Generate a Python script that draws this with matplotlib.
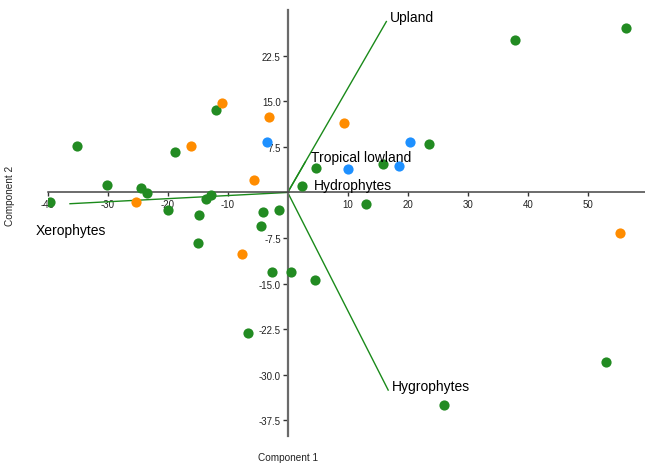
import matplotlib
matplotlib.use("Agg")
import matplotlib.pyplot as plt

# --- data -------------------------------------------------------------
green_x = [-35.1, -30.2, -24.4, -23.5, -18.8, -11.95, -12.8, -13.7, -19.9, -14.8,
           -39.6, -4.2, -1.4, -4.4, 4.7, 2.3, -14.95, -2.6, 0.5, 4.5, -6.6,
           37.9, 56.4, 23.6, 15.8, 13.05, 53.05, 26.1]
green_y = [7.6, 1.3, 0.7, -0.1, 6.6, 13.5, -0.4, -1.15, -2.85, -3.7,
           -1.5, -3.2, -2.85, -5.6, 4.06, 1.04, -8.3, -13.1, -13.1, -14.4, -23.1,
           25.1, 27.0, 7.95, 4.7, -1.86, -27.8, -35.0]
orange_x = [-10.9, -3.2, -16.2, -5.7, -25.3, -7.6, 9.3, 55.3]
orange_y = [14.7, 12.4, 7.6, 2.1, -1.5, -10.1, 11.5, -6.6]
blue_x = [-3.45, 20.3, 10.1, 18.55]
blue_y = [8.3, 8.3, 3.8, 4.3]

loading_names = ["Upland", "Tropical lowland", "Hydrophytes", "Hygrophytes", "Xerophytes"]
loading_x = [16.5, 3.0, 0.3, 16.8, -36.4]
loading_y = [28.2, 5.13, 0.05, -32.6, -1.86]
label_x = [17.05, 3.9, 4.4, 17.4, -41.95]
label_y = [28.9, 5.9, 1.3, -31.9, -6.1]

x_ticks = [-40, -30, -20, -10, 10, 20, 30, 40, 50]
y_ticks = [22.5, 15.0, 7.5, -7.5, -15.0, -22.5, -30.0, -37.5]

# --- figure -----------------------------------------------------------
plt.rcParams['font.family'] = ['Liberation Sans', 'DejaVu Sans']
W, H = 645, 464
fig = plt.figure(figsize=(W / 100, H / 100), dpi=100)
left_px, right_px, top_px, bottom_px = 47.7, 647.7, 11.0, 436.7
ax = fig.add_axes([left_px / W, (H - bottom_px) / H,
                   (right_px - left_px) / W, (bottom_px - top_px) / H])
ax.set_xlim(-40, 60)
ax.set_ylim(-40, 30)
ax.patch.set_alpha(0)

for s in ("top", "right"):
    ax.spines[s].set_visible(False)
ax.spines["left"].set_position(("data", 0))
ax.spines["bottom"].set_position(("data", 0))
ax.spines["left"].set_color("#6a6a6a")
ax.spines["left"].set_linewidth(1.6)
ax.spines["bottom"].set_color("#444444")
ax.spines["bottom"].set_linewidth(1.1)

ax.set_xticks(x_ticks)
ax.set_xticklabels([str(v) for v in x_ticks])
ax.set_yticks(y_ticks)
ax.set_yticklabels([f"{v:.1f}" for v in y_ticks])
ax.tick_params(axis="x", direction="out", length=3, width=1, color="#333333",
               pad=1.5, labelsize=7, labelcolor="#222222")
ax.tick_params(axis="y", direction="out", length=3.5, width=1, color="#333333",
               pad=1.5, labelsize=7, labelcolor="#222222")

# loading vectors
for name, lx, ly, tx, ty in zip(loading_names, loading_x, loading_y, label_x, label_y):
    ax.plot([0, lx], [0, ly], color="#1a8a1a", lw=1.0, zorder=2, solid_capstyle="butt")
    ax.text(tx, ty, name, fontsize=10, ha="left", va="center", color="black", zorder=4)

# points
ms = 54
ax.scatter(green_x, green_y, s=ms, color="#228B22", linewidths=0, zorder=3)
ax.scatter(orange_x, orange_y, s=ms, color="#FF8C00", linewidths=0, zorder=3)
ax.scatter(blue_x, blue_y, s=ms, color="#1E90FF", linewidths=0, zorder=3)

# axis titles
fig.text(288 / W, 1 - 457.7 / H, "Component 1", fontsize=7.2, ha="center", va="center",
         color="#222222")
fig.text(10 / W, 1 - 196 / H, "Component 2", fontsize=7.2, ha="center", va="center",
         rotation=90, color="#222222")

fig.savefig("out.png", dpi=100)
